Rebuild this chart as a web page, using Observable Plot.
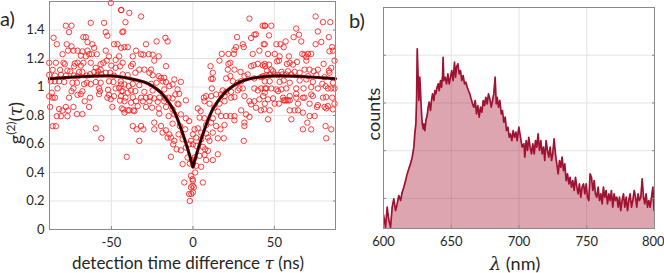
<!DOCTYPE html>
<html><head><meta charset="utf-8">
<script src="https://cdn.jsdelivr.net/npm/d3@7"></script>
<script src="https://cdn.jsdelivr.net/npm/@observablehq/plot@0.6"></script>
<style>
body{margin:0;background:#fff;}
#wrap{position:relative;width:664px;height:273px;font-family:Lato,sans-serif;color:#262626;overflow:hidden;}
.pn{position:absolute;top:0;}
.lbl{position:absolute;white-space:nowrap;font-size:17px;line-height:1;}
.rot{transform:translate(-50%,-50%) rotate(-90deg);}
.ctr{transform:translate(-50%,-50%);}
.m{font-family:"DejaVu Serif","Liberation Serif",serif;font-style:italic;}
</style></head>
<body>
<div id="wrap">
  <div id="pa" class="pn" style="left:0"></div>
  <div id="pb" class="pn" style="left:340px"></div>
  <div class="lbl" style="left:0px;top:8px;font-size:20px">a)</div>
  <div class="lbl" style="left:349px;top:10px;font-size:20px">b)</div>
  <div class="lbl rot" style="left:15px;top:123px;font-size:18px">g<sup style="font-size:12px">(2)</sup>(<span class="m">τ</span>)</div>
  <div class="lbl ctr" style="left:188px;top:263px">detection time difference <span class="m">τ</span> (ns)</div>
  <div class="lbl rot" style="left:373px;top:114px;font-size:18px">counts</div>
  <div class="lbl ctr" style="left:515px;top:263px;font-size:18px"><span class="m">λ</span> (nm)</div>
</div>
<script>
// ---- panel a: g2 data (tau in ns, g2) ----
const g2Points = [
[-50.4,1.59],[-43.9,1.54],[-78.0,1.43],[-74.5,1.43],[-62.7,1.45],[-54.5,1.45],[-76.0,1.385],[-53.5,1.385],[-43.3,1.385],[-85.5,1.345],[-67.2,1.35],[-65.7,1.35],[-52.5,1.36],[-83.5,1.30],[-77.4,1.30],[-74.5,1.285],[-64.7,1.315],[-48.4,1.30],[-46.3,1.30],[-61.7,1.30],[-60.6,1.275],[-76.6,1.255],[-73.3,1.255],[-70.8,1.255],[-67.8,1.25],[-64.7,1.255],[-80.0,1.23],[-62.1,1.23],[-59.0,1.23],[-53.5,1.255],[-68.8,1.22],[-51.5,1.215],[-65.7,1.215],[-63.7,1.23],[-52.9,1.185],[-47.4,1.19],[-45.3,1.215],[-88.2,1.17],[-84.1,1.17],[-79.4,1.17],[-78.6,1.16],[-72.5,1.165],[-70.8,1.17],[-67.2,1.17],[-62.7,1.17],[-56.6,1.16],[-54.9,1.17],[-86.1,1.12],[-81.5,1.12],[-77.0,1.115],[-75.3,1.11],[-72.9,1.145],[-68.8,1.15],[-59.6,1.135],[-50.0,1.15],[-47.4,1.135],[-44.7,1.145],[-69.8,1.105],[-67.8,1.105],[-60.6,1.105],[-58.2,1.11],[-56.6,1.12],[-53.5,1.10],[-88.2,1.085],[-84.7,1.08],[-81.0,1.085],[-78.0,1.08],[-72.9,1.08],[-70.8,1.075],[-65.1,1.08],[-63.1,1.09],[-58.6,1.085],[-56.2,1.09],[-50.8,1.10],[-48.4,1.08],[-87.2,1.04],[-84.7,1.04],[-82.1,1.04],[-79.0,1.035],[-73.9,1.03],[-71.2,1.03],[-66.8,1.02],[-65.1,1.03],[-62.7,1.02],[-59.6,1.035],[-56.6,1.03],[-51.5,1.04],[-48.8,1.035],[-44.3,1.04],[-83.1,0.99],[-86.6,0.96],[-73.3,0.99],[-74.5,0.97],[-67.8,0.97],[-57.6,0.99],[-57.0,0.97],[-52.1,0.98],[-47.4,0.99],[-45.3,0.995],[-43.9,0.97],[-88.2,0.935],[-86.1,0.925],[-84.7,0.925],[-76.0,0.925],[-70.8,0.945],[-68.8,0.95],[-63.1,0.925],[-57.6,0.95],[-52.5,0.925],[-51.5,0.945],[-50.4,0.915],[-48.4,0.935],[-66.4,0.90],[-44.7,0.905],[-87.6,0.86],[-78.0,0.86],[-63.7,0.86],[-49.4,0.86],[-82.1,0.845],[-80.0,0.835],[-76.6,0.835],[-73.3,0.86],[-71.2,0.81],[-67.8,0.81],[-43.7,0.85],[-83.5,0.795],[-81.0,0.795],[-77.0,0.795],[-86.1,0.725],[-84.1,0.725],[-59.6,0.71],[-56.2,0.64],
[-44.1,1.54],[-39.0,1.52],[-31.8,1.495],[-41.4,1.455],[-42.7,1.39],[-28.8,1.30],[-22.3,1.32],[-16.9,1.345],[-15.5,1.32],[-44.1,1.275],[-42.0,1.28],[-40.0,1.28],[-34.9,1.255],[-31.8,1.23],[-30.4,1.227],[-27.1,1.23],[-24.7,1.227],[-36.9,1.215],[-21.0,1.215],[-23.7,1.185],[-43.1,1.17],[-36.9,1.162],[-38.0,1.146],[-16.5,1.146],[-32.9,1.122],[-29.8,1.122],[-25.7,1.122],[-35.3,1.10],[-26.7,1.10],[-24.7,1.083],[-21.0,1.076],[-19.6,1.064],[-17.6,1.064],[-43.1,1.088],[-40.0,1.083],[-11.4,1.053],[-7.4,1.036],[-44.1,1.018],[-42.0,1.018],[-39.4,1.006],[-36.9,1.022],[-32.9,1.013],[-25.7,1.022],[-22.3,1.03],[-18.6,1.04],[-16.5,1.034],[-14.5,1.006],[-12.5,1.018],[-43.1,0.971],[-40.0,0.96],[-38.0,0.976],[-35.3,0.971],[-29.8,0.966],[-24.7,0.976],[-17.6,0.983],[-9.4,0.983],[-8.4,0.952],[-10.8,0.948],[-44.1,0.936],[-41.4,0.925],[-36.9,0.929],[-31.8,0.925],[-28.8,0.925],[-26.3,0.929],[-23.7,0.92],[-20.6,0.925],[-16.9,0.92],[-14.9,0.925],[-12.5,0.92],[-4.3,0.906],[-42.0,0.90],[-38.0,0.89],[-34.9,0.90],[-30.8,0.90],[-26.7,0.90],[-21.6,0.896],[-17.6,0.90],[-8.8,0.878],[-42.7,0.843],[-40.0,0.836],[-39.0,0.836],[-36.5,0.836],[-33.9,0.866],[-28.8,0.86],[-25.1,0.855],[-21.0,0.85],[-16.5,0.86],[-12.5,0.843],[-9.4,0.883],[-42.0,0.82],[-35.9,0.831],[-20.6,0.813],[-14.9,0.796],[-11.4,0.808],[-7.4,0.808],[-4.3,0.78],[-2.3,0.761],[-23.7,0.75],[-19.6,0.726],[-12.5,0.743],[-8.0,0.726],[-4.7,0.703],[-36.9,0.726],[-34.5,0.703],[-31.8,0.726],[-30.4,0.703],[-23.7,0.703],[-16.5,0.696],[-14.5,0.668],[-18.6,0.68],[-15.5,0.645],[-13.5,0.645],[-11.4,0.622],[-8.8,0.668],[-6.3,0.633],[-32.9,0.622],[-12.1,0.598],[-10.0,0.563],[-7.4,0.556],[-4.3,0.575],[-2.3,0.598],[-1.2,0.622],[-40.6,0.51],[-13.5,0.51],[-6.3,0.459],[-3.3,0.505],[-1.9,0.463],[-0.6,0.487],[-5.3,0.33],[-1.2,0.377],[-0.2,0.354],[-1.2,0.296],[-2.3,0.249],[-1.9,0.20],[-0.2,0.307],
[34.7,1.48],[42.8,1.43],[44.3,1.43],[37.7,1.367],[38.7,1.37],[27.1,1.35],[35.7,1.344],[43.4,1.30],[26.5,1.28],[25.5,1.26],[30.6,1.30],[31.2,1.28],[40.8,1.255],[17.7,1.232],[21.8,1.232],[25.1,1.232],[36.7,1.232],[16.3,1.185],[21.8,1.162],[23.0,1.17],[10.8,1.146],[12.2,1.10],[35.7,1.146],[37.3,1.153],[39.8,1.162],[42.8,1.153],[44.3,1.146],[21.4,1.122],[25.5,1.122],[29.2,1.106],[11.2,1.057],[12.2,1.057],[20.4,1.06],[23.0,1.076],[24.5,1.04],[27.5,1.03],[29.6,1.04],[31.6,1.076],[33.6,1.088],[37.7,1.06],[41.8,1.069],[11.6,0.99],[18.3,0.976],[17.3,0.948],[20.4,0.966],[23.4,0.966],[27.5,0.976],[28.5,0.99],[30.6,0.99],[37.7,0.99],[39.8,0.976],[41.8,0.99],[44.3,0.99],[6.7,0.925],[8.1,0.936],[11.2,0.936],[14.3,0.948],[19.4,0.936],[23.4,0.925],[25.5,0.929],[31.6,0.936],[34.7,0.90],[37.7,0.90],[40.8,0.913],[7.1,0.90],[10.2,0.883],[16.3,0.883],[19.4,0.90],[35.7,0.878],[38.7,0.855],[3.0,0.85],[4.7,0.831],[13.2,0.855],[15.3,0.827],[29.6,0.836],[32.6,0.808],[41.8,0.836],[43.8,0.843],[4.1,0.785],[7.1,0.78],[12.2,0.78],[17.3,0.796],[20.4,0.796],[23.0,0.796],[25.5,0.796],[34.7,0.79],[1.0,0.703],[3.0,0.71],[8.1,0.733],[11.2,0.75],[14.3,0.726],[19.4,0.733],[25.5,0.766],[31.6,0.75],[31.6,0.726],[0.0,0.668],[5.1,0.68],[8.1,0.673],[12.2,0.68],[16.9,0.703],[9.2,0.645],[2.0,0.645],[5.1,0.633],[10.2,0.622],[15.3,0.64],[19.0,0.64],[31.2,0.622],[0.0,0.598],[2.0,0.587],[6.1,0.58],[7.5,0.563],[9.2,0.552],[15.3,0.528],[1.0,0.505],[4.1,0.517],[7.1,0.524],[8.1,0.487],[12.2,0.487],[0.0,0.459],[2.0,0.447],[5.1,0.44],[1.4,0.40],[6.1,0.33],[0.0,0.342],[0.6,0.296],[0.0,0.26],[-1.0,0.249],
[75.3,1.495],[79.8,1.455],[84.3,1.455],[44.1,1.43],[48.1,1.43],[63.4,1.41],[65.1,1.367],[46.7,1.362],[61.8,1.35],[83.4,1.35],[76.7,1.39],[66.5,1.32],[51.2,1.30],[53.7,1.30],[55.7,1.28],[56.9,1.32],[75.3,1.30],[78.8,1.316],[85.5,1.28],[44.1,1.30],[50.2,1.232],[46.1,1.232],[67.1,1.232],[68.5,1.227],[70.6,1.232],[72.6,1.232],[83.8,1.25],[85.9,1.255],[53.2,1.215],[58.9,1.215],[69.6,1.21],[44.1,1.162],[46.7,1.157],[51.6,1.18],[52.8,1.185],[57.7,1.162],[59.4,1.17],[61.4,1.157],[63.9,1.176],[69.6,1.185],[80.2,1.162],[86.9,1.185],[45.5,1.115],[48.1,1.122],[49.2,1.11],[54.3,1.106],[58.3,1.11],[62.4,1.106],[68.5,1.122],[71.6,1.122],[74.1,1.11],[76.7,1.122],[83.4,1.115],[84.9,1.134],[43.1,1.076],[45.1,1.083],[47.1,1.088],[50.2,1.088],[52.2,1.083],[54.9,1.088],[57.3,1.088],[60.4,1.088],[65.5,1.10],[70.6,1.076],[75.7,1.083],[80.8,1.069],[83.8,1.10],[44.1,1.04],[47.1,1.04],[53.2,1.036],[55.7,1.046],[59.4,1.03],[65.5,1.046],[69.6,1.053],[73.6,1.036],[79.4,1.022],[81.4,1.006],[85.9,1.03],[45.1,0.99],[48.1,0.99],[51.2,0.983],[54.3,0.983],[57.3,0.99],[63.4,0.99],[67.9,0.99],[72.6,0.999],[76.7,0.99],[82.8,0.99],[84.9,0.99],[86.9,0.99],[44.1,0.96],[52.2,0.971],[63.4,0.952],[67.5,0.925],[72.6,0.948],[79.8,0.925],[81.8,0.929],[85.5,0.925],[43.1,0.936],[46.1,0.913],[49.2,0.92],[55.3,0.925],[59.4,0.936],[63.4,0.925],[68.5,0.925],[73.6,0.936],[55.7,0.906],[57.3,0.906],[59.4,0.906],[56.3,0.906],[58.3,0.906],[44.1,0.883],[50.2,0.883],[52.8,0.883],[64.5,0.883],[71.6,0.883],[76.1,0.86],[80.8,0.86],[82.8,0.866],[86.9,0.883],[47.1,0.836],[59.4,0.836],[62.4,0.836],[64.5,0.836],[67.5,0.82],[76.7,0.873],[81.8,0.85],[85.9,0.843],[46.1,0.773],[60.4,0.773],[71.6,0.796],[74.7,0.796],[67.5,0.703],[72.6,0.703],[81.4,0.726],[84.9,0.703],[70.2,0.75],[81.8,0.64]
];
// fitted curve (tau, g2)
const fitCurve = [
[-88,1.058],[-80,1.064],[-70,1.072],[-60,1.077],[-50,1.078],[-45,1.072],[-40,1.062],[-35,1.05],[-30,1.035],[-25,1.008],[-20,0.965],[-15,0.895],[-12,0.84],[-10,0.79],[-8,0.73],[-6,0.665],[-4,0.595],[-2,0.52],[-1,0.48],[0,0.44],
[0,0.44],[1,0.48],[2,0.52],[4,0.595],[6,0.665],[8,0.73],[10,0.79],[12,0.84],[15,0.895],[20,0.965],[25,1.01],[30,1.04],[35,1.058],[40,1.068],[45,1.074],[50,1.078],[60,1.077],[70,1.072],[80,1.064],[87.5,1.058]
];
const fitSide = ["L","L","L","L","L","L","L","L","L","L","L","L","L","L","L","L","L","L","L","L",
"R","R","R","R","R","R","R","R","R","R","R","R","R","R","R","R","R","R","R","R"];
const tauTicks = [-50, 0, 50];
const g2Ticks = [0, 0.2, 0.4, 0.6, 0.8, 1, 1.2, 1.4];

// ---- panel b: spectrum (wavelength nm, counts a.u.) ----
const spectrum = [
[600.0,330],[600.3,303],[601.5,198],[602.7,408],[604.0,268],[605.2,198],[606.4,408],[607.6,495],[608.9,373],[610.1,443],[611.3,530],[612.6,478],[613.8,565],[615.0,618],[616.3,687],[617.5,757],[618.7,810],[619.9,862],[621.2,932],[622.4,1037],[623.1,1176],[623.9,1281],[624.4,1526],[624.9,2067],[625.4,1840],[626.1,1526],[626.8,1770],[627.3,1630],[627.8,1456],[628.6,1281],[629.3,1229],[629.8,1281],[630.5,1211],[631.3,1316],[632.2,1368],[633.0,1456],[633.7,1508],[634.7,1421],[635.4,1526],[636.2,1595],[637.2,1526],[637.9,1630],[638.6,1595],[639.6,1665],[640.4,1700],[641.1,1630],[642.1,1735],[642.8,1665],[643.6,1787],[644.0,1979],[644.5,1735],[645.5,1770],[646.5,1700],[647.5,1805],[648.5,1700],[649.5,1770],[650.4,1840],[651.4,1735],[652.4,1927],[653.2,1770],[653.9,1875],[654.9,1910],[655.9,1805],[656.8,1840],[657.8,1735],[658.8,1787],[659.8,1700],[660.8,1718],[661.8,1665],[662.7,1630],[663.7,1595],[664.7,1543],[665.7,1491],[666.7,1456],[667.7,1526],[668.6,1386],[669.6,1473],[670.6,1351],[671.6,1456],[672.6,1403],[673.6,1526],[674.6,1473],[675.5,1560],[676.5,1491],[677.5,1595],[678.5,1543],[679.5,1456],[680.5,1526],[681.4,1595],[682.4,1770],[683.2,1491],[683.9,1560],[684.9,1456],[685.9,1526],[686.9,1386],[687.8,1421],[688.8,1298],[689.8,1351],[690.8,1211],[691.8,1246],[692.8,1141],[693.7,1176],[694.7,1106],[695.7,1211],[696.7,1141],[697.7,1194],
[698.6,1106],[699.9,1246],[701.1,1141],[702.3,1037],[703.6,1072],[704.3,932],[705.3,1106],[706.3,1002],[707.2,1141],[708.2,1037],[709.2,967],[710.2,1072],[711.2,967],[712.2,1106],[713.1,1037],[714.1,1176],[715.1,1002],[716.1,1106],[717.1,967],[718.1,1037],[719.0,897],[720.0,1106],[721.0,1002],[722.0,932],[723.0,1037],[724.0,897],[724.9,967],[725.9,1124],[726.9,967],[727.9,862],[728.9,757],[729.9,897],[730.9,827],[731.8,932],[732.8,792],[733.8,862],[734.8,687],[735.8,757],[736.8,652],[737.7,722],[738.7,618],[739.7,687],[740.7,583],[741.7,722],[742.7,618],[743.6,548],[744.6,652],[745.6,513],[746.6,618],[747.6,652],[748.6,548],[749.6,652],[750.5,513],[751.5,478],[752.5,757],[753.5,722],[754.5,583],[755.5,687],[756.4,548],[757.4,513],[758.4,618],[759.4,478],[760.4,548],[761.4,443],[762.3,618],[763.3,513],[764.3,583],[765.3,443],[766.3,548],[767.3,478],[768.2,583],[769.2,408],[770.2,548],[771.2,478],[772.2,513],[773.2,408],[774.2,513],[775.1,373],[776.1,478],[777.1,548],[778.1,408],[779.1,513],[780.1,373],[781.0,478],[782.0,548],[783.0,408],[784.0,478],[785.0,583],[786.0,513],[786.9,408],[787.9,548],[788.9,478],[789.9,513],[790.9,705],[791.9,513],[792.8,443],[793.8,548],[794.8,408],[795.8,478],[796.8,408],[797.8,513],[798.8,618],[799.7,373],[800.0,443]
];
const lambdaTicks = [600, 650, 700, 750, 800];
const countTicks = [500, 1000, 1500, 2000];

// ---- build ----
const gridColor = "#e3e3e3";
const frameColor = "#8a8a8a";
const baseStyle = {fontFamily: "Lato, sans-serif", fontSize: "13px", color: "#262626", background: "white", overflow: "visible"};

const g2Data = g2Points.map(([t, g]) => ({t, g}));
const fitData = fitCurve.map(([t, g], i) => ({t, g, side: fitSide[i]}));

const chartA = Plot.plot({
  width: 340, height: 273,
  marginLeft: 49, marginRight: 5, marginTop: 1, marginBottom: 44,
  style: baseStyle,
  x: {domain: [-88, 87.5]},
  y: {domain: [0, 1.6]},
  marks: [
    Plot.gridX(tauTicks, {stroke: gridColor, strokeOpacity: 1}),
    Plot.gridY(g2Ticks, {stroke: gridColor, strokeOpacity: 1}),
    Plot.dot(g2Data, {x: "t", y: "g", r: 2.7, stroke: "#ff1a1a", strokeWidth: 0.85, fill: "none"}),
    Plot.line(fitData, {x: "t", y: "g", z: "side", stroke: "#8a0000", strokeWidth: 3.2, curve: "catmull-rom"}),
    Plot.line(fitData, {x: "t", y: "g", z: "side", stroke: "#000", strokeWidth: 1.6, curve: "catmull-rom"}),
    Plot.axisX(tauTicks, {tickSize: 0, tickPadding: 8, label: null, tickFormat: d => String(d), fontSize: 13}),
    Plot.axisY(g2Ticks, {tickSize: 0, tickPadding: 5, label: null, tickFormat: d => String(d), fontSize: 13}),
    Plot.axisY(g2Ticks, {anchor: "right", tickSize: -3, text: null, label: null, stroke: frameColor}),
    Plot.axisX(tauTicks, {anchor: "bottom", tickSize: -3, text: null, label: null, stroke: frameColor}),
    Plot.frame({stroke: frameColor})
  ]
});
document.getElementById("pa").appendChild(chartA);

const specData = spectrum.map(([l, c]) => ({l, c}));
const chartB = Plot.plot({
  width: 324, height: 273,
  marginLeft: 43, marginRight: 10, marginTop: 7, marginBottom: 45,
  style: baseStyle,
  x: {domain: [600, 800]},
  y: {domain: [185, 2500]},
  marks: [
    Plot.gridX(lambdaTicks, {stroke: gridColor, strokeOpacity: 1}),
    Plot.gridY(countTicks, {stroke: gridColor, strokeOpacity: 1}),
    Plot.areaY(specData, {x: "l", y: "c", fill: "#a3122f", fillOpacity: 0.38, clip: true}),
    Plot.line(specData, {x: "l", y: "c", stroke: "#a01232", strokeWidth: 1.7, clip: true}),
    Plot.axisX(lambdaTicks.slice(0, 4), {tickSize: 0, tickPadding: 8, label: null, tickFormat: d => String(d), fontSize: 13}),
    Plot.axisX(lambdaTicks.slice(4), {tickSize: 0, tickPadding: 8, label: null, tickFormat: d => String(d), fontSize: 13, textAnchor: "end", dx: 10}),
    Plot.axisY(countTicks, {tickSize: -3, text: null, label: null, stroke: frameColor}),
    Plot.axisY(countTicks, {anchor: "right", tickSize: -3, text: null, label: null, stroke: frameColor}),
    Plot.axisX(lambdaTicks, {anchor: "bottom", tickSize: -3, text: null, label: null, stroke: frameColor}),
    Plot.frame({stroke: frameColor})
  ]
});
document.getElementById("pb").appendChild(chartB);
</script>
</body></html>
